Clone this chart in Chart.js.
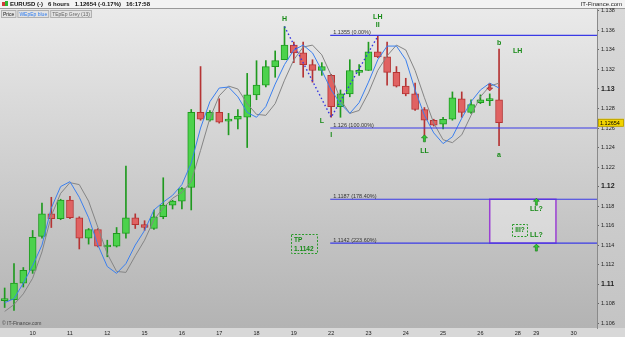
<!DOCTYPE html>
<html>
<head>
<meta charset="utf-8">
<script src="https://cdn.jsdelivr.net/npm/chart.js@4.4.1/dist/chart.umd.min.js"></script>
<style>
  html, body { margin: 0; padding: 0; background: #ffffff; }
  #wrap { position: relative; width: 625px; height: 337px; }
</style>
</head>
<body>
<div id="wrap"><canvas id="chart" width="625" height="337"></canvas></div>
<script>
// EURUSD 6h candles
const opens = [1.1083,1.1084,1.1101,1.1114,1.1149,1.1172,1.1167,1.1186,1.1168,1.1147,1.1156,1.1138,1.1139,1.1152,1.1168,1.1161,1.1157,1.1169,1.1181,1.1185,1.1199,1.1276,1.1268,1.1276,1.1267,1.1269,1.1271,1.1294,1.1304,1.1323,1.1330,1.1345,1.1337,1.1325,1.1319,1.1314,1.1282,1.1295,1.1317,1.1319,1.1338,1.1333,1.1317,1.1303,1.1295,1.1279,1.1268,1.1264,1.1269,1.1290,1.1276,1.1286,1.1288,1.1289];
const closes = [1.1085,1.1101,1.1114,1.1148,1.1172,1.1167,1.1186,1.1168,1.1147,1.1156,1.1139,1.1140,1.1152,1.1168,1.1161,1.1158,1.1169,1.1181,1.1185,1.1198,1.1276,1.1269,1.1276,1.1266,1.1268,1.1272,1.1294,1.1304,1.1323,1.1329,1.1345,1.1337,1.1325,1.1319,1.1323,1.1282,1.1295,1.1319,1.1318,1.1338,1.1333,1.1317,1.1303,1.1295,1.1279,1.1268,1.1263,1.1269,1.1291,1.1276,1.1284,1.1289,1.1289,1.12654];
const highs = [1.1096,1.1121,1.1117,1.1155,1.1183,1.1189,1.1187,1.1190,1.1169,1.1157,1.1157,1.1145,1.1158,1.1221,1.1172,1.1165,1.1176,1.1209,1.1186,1.1199,1.1279,1.1323,1.1278,1.1290,1.1275,1.1279,1.1316,1.1329,1.1329,1.1339,1.1364,1.1348,1.1348,1.1330,1.1327,1.1315,1.1299,1.1330,1.1325,1.1348,1.1354,1.1348,1.1323,1.1311,1.1306,1.1281,1.1269,1.1271,1.1297,1.1297,1.1289,1.1294,1.1295,1.1341];
const lows = [1.1076,1.1073,1.1097,1.1111,1.1147,1.1158,1.1166,1.1167,1.1136,1.1141,1.1138,1.1128,1.1138,1.1147,1.1157,1.1155,1.1156,1.1167,1.1177,1.1177,1.1176,1.1268,1.1267,1.1265,1.1253,1.1259,1.1240,1.1289,1.1302,1.1312,1.1330,1.1327,1.1312,1.1307,1.1314,1.1271,1.1271,1.1292,1.1314,1.1319,1.1332,1.1304,1.1302,1.1293,1.1278,1.1250,1.1262,1.1259,1.1268,1.1271,1.1275,1.1285,1.1283,1.1242];

// indicator lines
const blueLine = [1.1081,1.1085,1.1101,1.1119,1.1140,1.1178,1.1200,1.1205,1.1189,1.1168,1.1140,1.1118,1.1111,1.1121,1.1140,1.1155,1.1176,1.1184,1.1191,1.1202,1.1224,1.1260,1.1287,1.1301,1.1302,1.1292,1.1276,1.1271,1.1282,1.1305,1.1325,1.1340,1.1345,1.1337,1.1319,1.1299,1.1285,1.1275,1.1286,1.1307,1.1330,1.1344,1.1344,1.1330,1.1299,1.1273,1.1255,1.1244,1.1251,1.1270,1.1287,1.1299,1.1306,1.1301];
const greyLine = [1.1072,1.1079,1.1090,1.1106,1.1133,1.1170,1.1193,1.1204,1.1202,1.1185,1.1158,1.1131,1.1113,1.1112,1.1129,1.1145,1.1166,1.1178,1.1188,1.1194,1.1205,1.1237,1.1270,1.1293,1.1303,1.1300,1.1285,1.1274,1.1273,1.1285,1.1309,1.1330,1.1343,1.1345,1.1335,1.1314,1.1289,1.1275,1.1278,1.1296,1.1319,1.1334,1.1345,1.1340,1.1319,1.1291,1.1265,1.1248,1.1245,1.1253,1.1273,1.1292,1.1303,1.1306];

// fibonacci levels
const fibLevels = [1.1355, 1.126, 1.1187, 1.1142];
const fibLabels = ["1.1355 (0.00%)", "1.126 (100.00%)", "1.1187 (178.40%)", "1.1142 (223.60%)"];
const fibStart = 34.9;

// axes
const dayTicks = [3, 7, 11, 15, 19, 23, 27, 31, 35, 39, 43, 47, 51, 55, 57, 61];
const dayLabels = ["10", "11", "12", "15", "16", "17", "18", "19", "22", "23", "24", "25", "26", "28", "29", "30"];
const yTicks = [1.106, 1.108, 1.11, 1.112, 1.114, 1.116, 1.118, 1.12, 1.122, 1.124, 1.126, 1.128, 1.13, 1.132, 1.134, 1.136, 1.138];

// wave labels: [text, candle index, price]
const waveLabels = [
  ["H", 30, 1.1372], ["LH", 40, 1.1374], ["II", 40, 1.1366],
  ["L", 34, 1.1267], ["I", 35, 1.1253], ["LL", 45, 1.1236],
  ["b", 53, 1.1347], ["a", 53, 1.1232], ["LH", 55, 1.1339],
  ["LL?", 57, 1.1177], ["LL?", 57, 1.1150]
];
const upArrows = [[45, 1.1253], [57, 1.1188], [57, 1.1141]];
const downArrows = [[52, 1.1298]];
const targetBox = [52.0, 59.1, 1.1187, 1.1142];

const green = "#4cd24c", greenEdge = "#1f9a1f";
const red = "#e06262", redEdge = "#b53434";
const idx = opens.map((_, i) => i);
const isUp = idx.map(i => closes[i] >= opens[i]);

const FONT = "'Liberation Sans', Arial, sans-serif";

function isMajor(v) {
  return Math.abs(v * 100 - Math.round(v * 100)) < 1e-6;
}

const backdrop = {
  id: "backdrop",
  beforeDraw(chart) {
    const { ctx, chartArea: a, width, height } = chart;
    ctx.save();
    ctx.fillStyle = "#d8d8d8";
    ctx.fillRect(0, 0, width, height);
    const g = ctx.createLinearGradient(0, a.top, 0, a.bottom);
    g.addColorStop(0, "#eaeaea");
    g.addColorStop(1, "#b3b3b3");
    ctx.fillStyle = g;
    ctx.fillRect(a.left, a.top, a.right - a.left, a.bottom - a.top);
    const g2 = ctx.createLinearGradient(0, a.top, 0, a.bottom);
    g2.addColorStop(0, "#d9d9d9");
    g2.addColorStop(1, "#c4c4c4");
    ctx.fillStyle = g2;
    ctx.fillRect(a.right, a.top, width - a.right, a.bottom - a.top);
    // title bar
    ctx.fillStyle = "#f3f3f3";
    ctx.fillRect(0, 0, width, 8);
    ctx.fillStyle = "#9a9a9a";
    ctx.fillRect(0, 8, width, 1);
    ctx.restore();

    // target box behind the lines
    const x = chart.scales.x, y = chart.scales.y;
    const x1 = x.getPixelForValue(targetBox[0]), x2 = x.getPixelForValue(targetBox[1]);
    const y1 = y.getPixelForValue(targetBox[2]), y2 = y.getPixelForValue(targetBox[3]);
    ctx.save();
    ctx.fillStyle = "rgba(235,235,235,0.55)";
    ctx.fillRect(x1, y1, x2 - x1, y2 - y1);
    ctx.strokeStyle = "#9b3fd4";
    ctx.lineWidth = 1.5;
    ctx.strokeRect(x1, y1, x2 - x1, y2 - y1);
    ctx.restore();
  }
};

function arrow(ctx, cx, tipY, dir, fill, edge) {
  // dir = -1 points up, +1 points down
  ctx.beginPath();
  ctx.moveTo(cx, tipY);
  ctx.lineTo(cx + 3, tipY - dir * 3);
  ctx.lineTo(cx + 1, tipY - dir * 3);
  ctx.lineTo(cx + 1, tipY - dir * 7);
  ctx.lineTo(cx - 1, tipY - dir * 7);
  ctx.lineTo(cx - 1, tipY - dir * 3);
  ctx.lineTo(cx - 3, tipY - dir * 3);
  ctx.closePath();
  ctx.fillStyle = fill;
  ctx.fill();
  ctx.strokeStyle = edge;
  ctx.lineWidth = 0.6;
  ctx.stroke();
}

const overlay = {
  id: "overlay",
  afterDraw(chart) {
    const { ctx, chartArea: a, width } = chart;
    const x = chart.scales.x, y = chart.scales.y;
    ctx.save();
    ctx.textBaseline = "middle";

    // day labels along the bottom
    ctx.font = "5.5px " + FONT;
    ctx.fillStyle = "#222";
    ctx.textAlign = "center";
    dayTicks.forEach((v, i) => ctx.fillText(dayLabels[i], x.getPixelForValue(v), a.bottom + 5));

    // fib texts
    ctx.font = "5.5px " + FONT;
    ctx.fillStyle = "#333";
    ctx.textAlign = "left";
    fibLevels.forEach((v, i) => {
      ctx.fillText(fibLabels[i], x.getPixelForValue(fibStart) + 3, y.getPixelForValue(v) - 3);
    });

    // wave labels
    ctx.font = "bold 7px " + FONT;
    ctx.fillStyle = "#178a17";
    ctx.textAlign = "center";
    waveLabels.forEach(([t, i, p]) => ctx.fillText(t, x.getPixelForValue(i), y.getPixelForValue(p)));

    upArrows.forEach(([i, p]) => arrow(ctx, x.getPixelForValue(i), y.getPixelForValue(p), -1, "#33cc33", "#137013"));
    downArrows.forEach(([i, p]) => arrow(ctx, x.getPixelForValue(i), y.getPixelForValue(p), 1, "#e04848", "#902020"));

    // dashed text boxes
    ctx.setLineDash([2, 1.5]);
    ctx.strokeStyle = "#2a9a2a";
    ctx.lineWidth = 1;
    ctx.strokeRect(291.5, 234.5, 26, 19);
    ctx.strokeRect(512.5, 224.5, 15, 12);
    ctx.setLineDash([]);
    ctx.font = "bold 6.5px " + FONT;
    ctx.fillStyle = "#178a17";
    ctx.textAlign = "left";
    ctx.fillText("TP", 294, 240);
    ctx.fillText("1.1142", 294, 249);
    ctx.textAlign = "center";
    ctx.fillText("III?", 520, 230.5);

    // current price tag
    const py = y.getPixelForValue(closes[closes.length - 1]);
    ctx.fillStyle = "#f2d400";
    ctx.fillRect(a.right + 1, py - 4, 26, 8);
    ctx.strokeStyle = "#a08800";
    ctx.lineWidth = 0.6;
    ctx.strokeRect(a.right + 1.5, py - 3.5, 25, 7);
    ctx.fillStyle = "#000";
    ctx.font = "5.5px " + FONT;
    ctx.textAlign = "left";
    ctx.fillText("1.12654", a.right + 3, py + 0.5);

    // header line
    ctx.fillStyle = "#d23a3a";
    ctx.fillRect(2, 2, 3, 4);
    ctx.fillStyle = "#2fb52f";
    ctx.fillRect(5, 1, 3, 5);
    ctx.font = "bold 6px " + FONT;
    ctx.fillStyle = "#111";
    let hx = 10;
    ["EURUSD (-)", "6 hours", "1.12654 (-0.17%)", "16:17:58"].forEach(t => {
      ctx.fillText(t, hx, 4.5);
      hx += ctx.measureText(t).width + 5;
    });
    ctx.font = "6px " + FONT;
    ctx.fillStyle = "#222";
    ctx.textAlign = "right";
    ctx.fillText("IT-Finance.com", width - 3, 4.5);

    // indicator tabs
    ctx.textAlign = "left";
    ctx.font = "5px " + FONT;
    let tx = 1;
    [["Price", "#222"], ["WEpEp blue", "#2f7df0"], ["TEpEp Grey (13)", "#666"]].forEach(([t, c]) => {
      const tw = ctx.measureText(t).width + 4;
      ctx.fillStyle = "#e2e2e2";
      ctx.fillRect(tx, 10, tw, 8);
      ctx.strokeStyle = "#b0b0b0";
      ctx.lineWidth = 1;
      ctx.strokeRect(tx + 0.5, 10.5, tw - 1, 7);
      ctx.fillStyle = c;
      ctx.fillText(t, tx + 2, 14.5);
      tx += tw + 1;
    });

    // copyright
    ctx.fillStyle = "#444";
    ctx.font = "5px " + FONT;
    ctx.fillText("\u00a9 IT-Finance.com", 2, a.bottom - 4);
    ctx.restore();
  }
};

new Chart(document.getElementById("chart"), {
  type: "bar",
  data: {
    datasets: [
      {
        type: "line",
        data: idx.map(i => ({ x: i, y: blueLine[i] })),
        borderColor: "#3b80ef",
        borderWidth: 1,
        pointRadius: 0,
        order: 1,
      },
      {
        type: "line",
        data: idx.map(i => ({ x: i, y: greyLine[i] })),
        borderColor: "#858585",
        borderWidth: 1,
        pointRadius: 0,
        order: 1,
      },
      ...fibLevels.map(v => ({
        type: "line",
        data: [{ x: fibStart, y: v }, { x: 63.5, y: v }],
        borderColor: "#3a3ae6",
        borderWidth: 1.2,
        pointRadius: 0,
        order: 0,
      })),
      {
        type: "line",
        data: [{ x: 30, y: highs[30] }, { x: 35, y: lows[35] }, { x: 40, y: highs[40] }],
        borderColor: "#3434e0",
        borderWidth: 1.4,
        borderDash: [1.5, 2.5],
        pointRadius: 0,
        order: 0,
      },
      {
        data: idx.map(i => ({ x: i, y: [lows[i], highs[i]] })),
        backgroundColor: idx.map(i => (isUp[i] ? greenEdge : redEdge)),
        barThickness: 1,
        grouped: false,
        order: 3,
      },
      {
        data: idx.map(i => ({ x: i, y: [opens[i], closes[i]] })),
        backgroundColor: idx.map(i => (isUp[i] ? green : red)),
        borderColor: idx.map(i => (isUp[i] ? greenEdge : redEdge)),
        borderWidth: 1,
        borderSkipped: false,
        barThickness: 7,
        minBarLength: 2,
        grouped: false,
        order: 2,
      },
    ],
  },
  options: {
    responsive: false,
    animation: false,
    devicePixelRatio: 1,
    events: [],
    layout: { padding: { top: 9, left: 0, right: 0, bottom: 0 } },
    plugins: { legend: { display: false }, tooltip: { enabled: false } },
    scales: {
      x: {
        type: "linear",
        min: -0.5,
        max: 63.5,
        offset: false,
        afterFit: s => { s.height = 9; },
        grid: { display: false },
        border: { display: false },
        ticks: { display: false },
      },
      y: {
        position: "right",
        min: 1.1055,
        max: 1.1382,
        afterBuildTicks: s => { s.ticks = yTicks.map(v => ({ value: v })); },
        afterFit: s => { s.width = 28; },
        grid: { drawOnChartArea: false, tickLength: 2, color: "#666" },
        border: { color: "#8a8a8a" },
        ticks: {
          padding: 2,
          color: "#222",
          font: c => (c.tick && isMajor(c.tick.value))
            ? { size: 7, weight: "bold", family: FONT }
            : { size: 5.5, family: FONT },
          callback: v => (isMajor(v) ? v.toFixed(2) : v.toFixed(3)),
        },
      },
    },
  },
  plugins: [backdrop, overlay],
});
</script>
</body>
</html>
